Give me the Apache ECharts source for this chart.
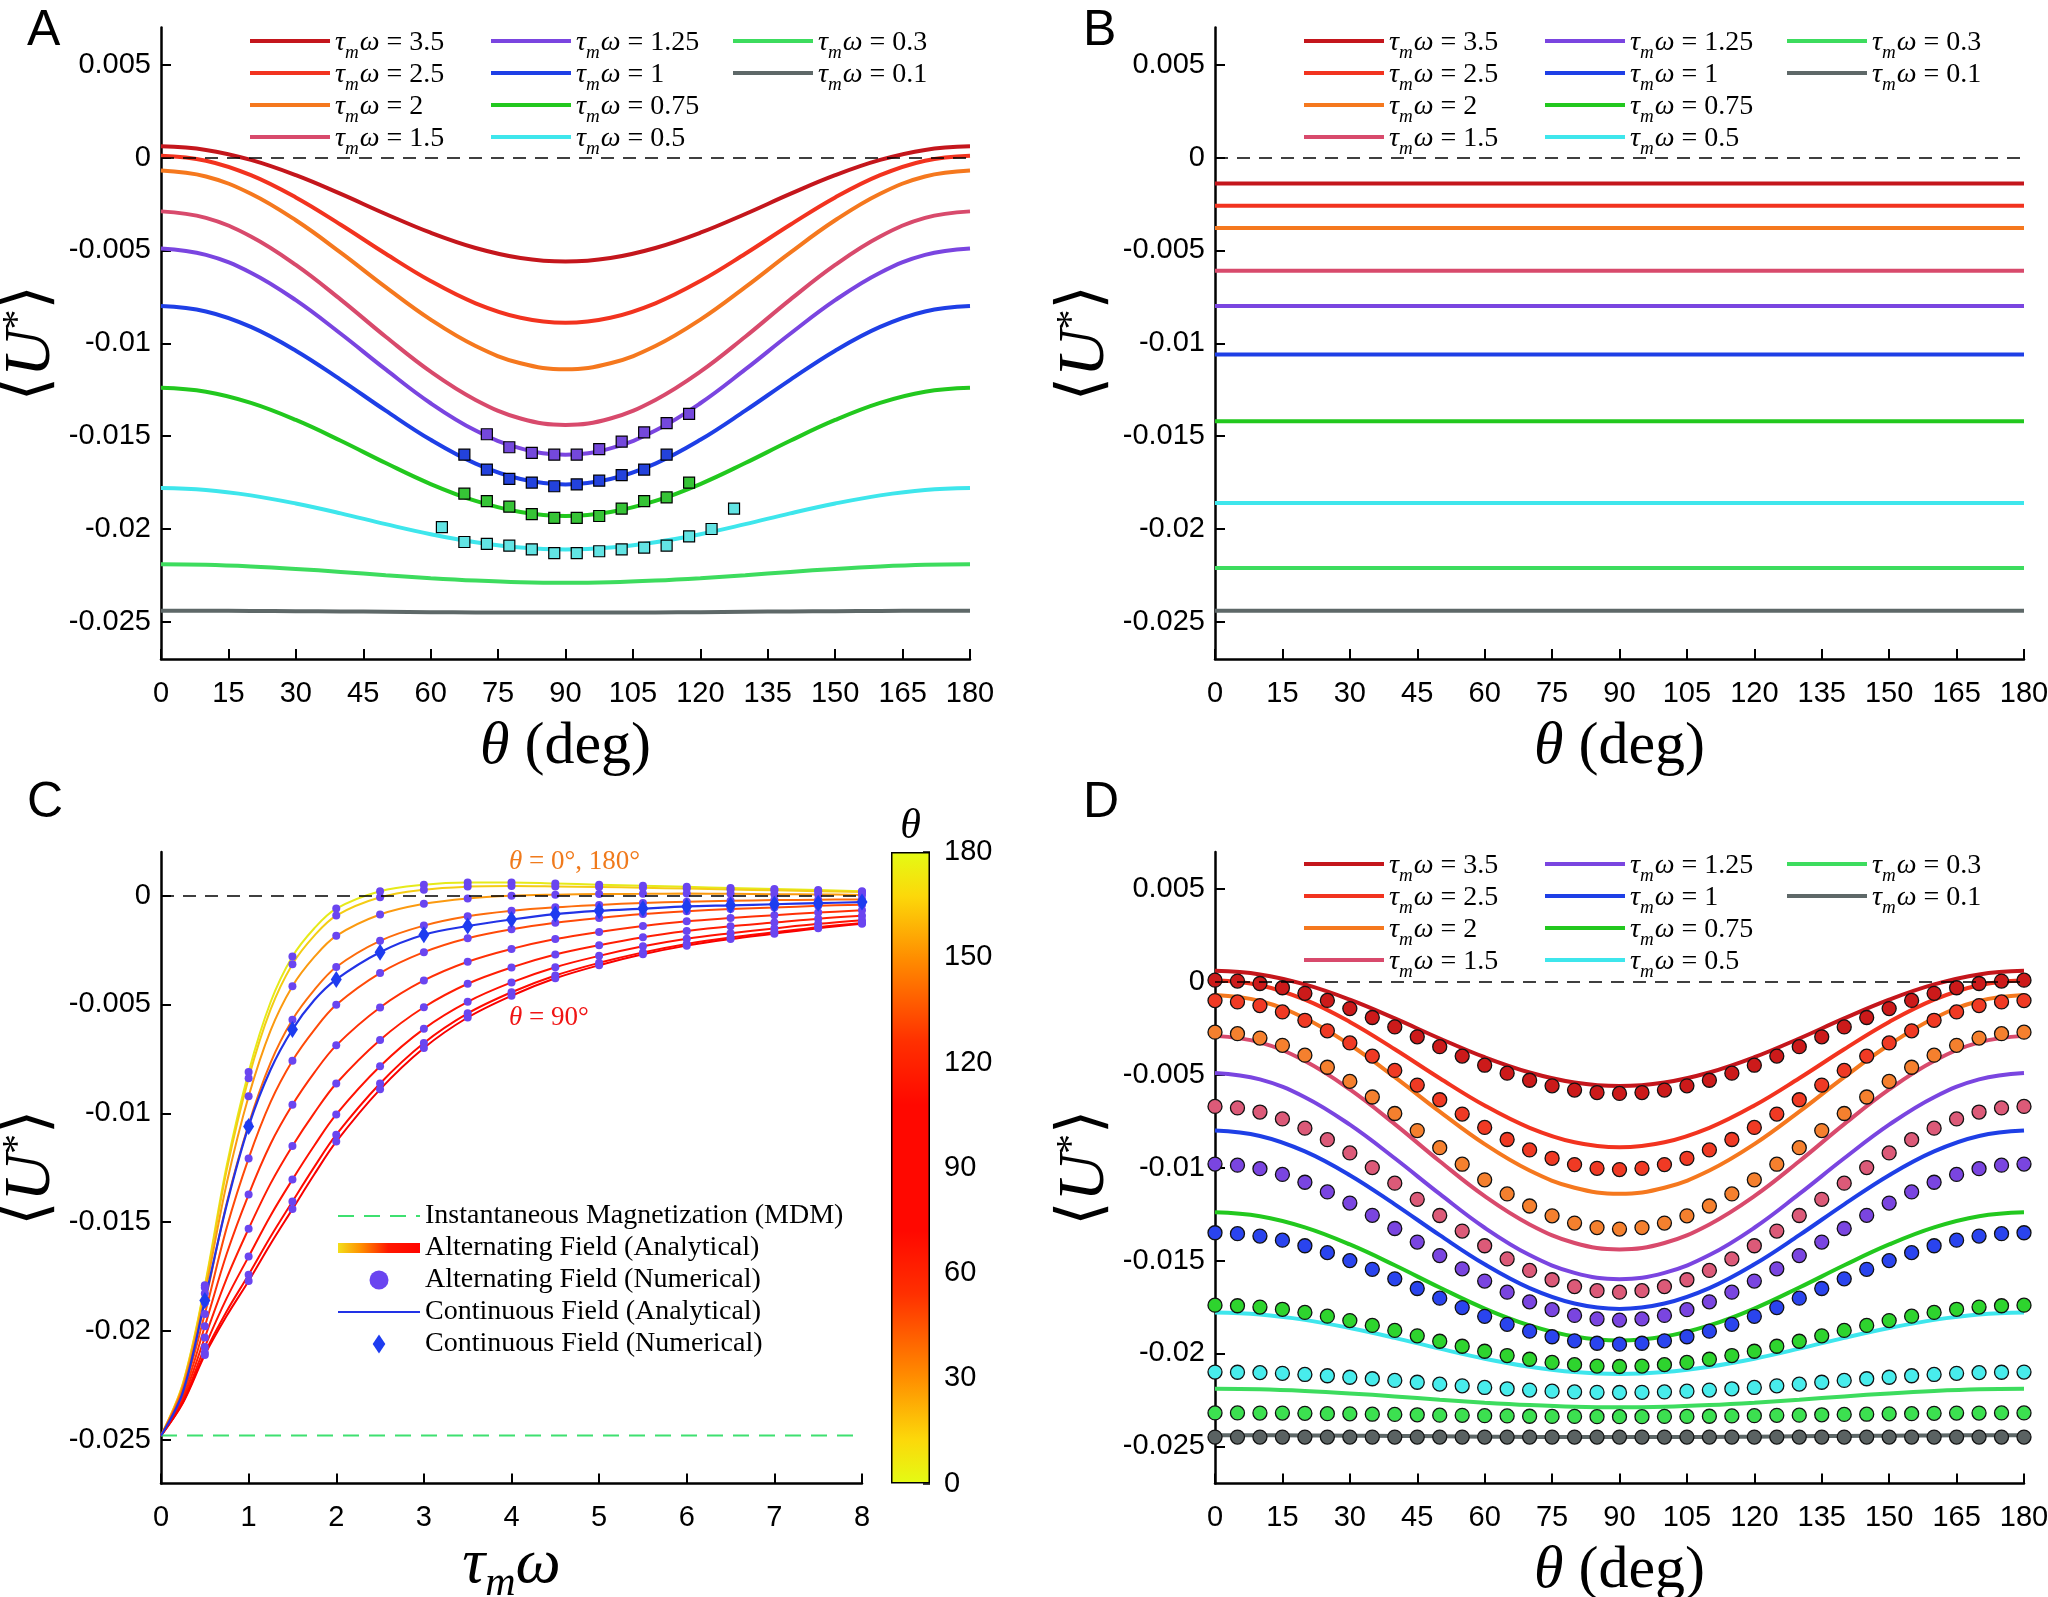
<!DOCTYPE html>
<html>
<head>
<meta charset="utf-8">
<script src="https://cdn.jsdelivr.net/npm/echarts@6/dist/echarts.min.js"></script>
<style>
html, body { margin: 0; padding: 0; background: #fff; }
#chart { width: 2048px; height: 1597px; }
</style>
</head>
<body>
<div id="chart"></div>
<script>
// ---- data ----
var tauLabels = ['3.5', '2.5', '2', '1.5', '1.25', '1', '0.75', '0.5', '0.3', '0.1'];
var lineColors = ['#c4161c', '#f2331f', '#f5781e', '#d84a6c', '#7a45e0', '#1e3fe6', '#22c81e', '#3ee6ec', '#3ddc5e', '#5e6868'];
var dotColors = ['#cc1a1a', '#f03a24', '#f5802e', '#dc5a78', '#7a45e0', '#2a44ee', '#2ed42e', '#48ecec', '#3ce050', '#5a6262'];

// panel A / D analytical curves, theta every 10 deg
var thetaLine = [0, 10, 20, 30, 40, 50, 60, 70, 80, 90, 100, 110, 120, 130, 140, 150, 160, 170, 180];
var uLine35 = [0.0006, 0.00041, -0.00013, -0.00095, -0.00196, -0.00304, -0.00405, -0.00487, -0.00541, -0.0056, -0.00541, -0.00487, -0.00405, -0.00304, -0.00196, -0.00095, -0.00013, 0.00041, 0.0006];
var uLine25 = [0.0001, -0.00017, -0.00095, -0.00215, -0.00362, -0.00518, -0.00665, -0.00785, -0.00863, -0.0089, -0.00863, -0.00785, -0.00665, -0.00518, -0.00362, -0.00215, -0.00095, -0.00017, 0.0001];
var uLine2 = [-0.0007, -0.00102, -0.00195, -0.00338, -0.00512, -0.00698, -0.00873, -0.01015, -0.01108, -0.0114, -0.01108, -0.01015, -0.00873, -0.00698, -0.00512, -0.00338, -0.00195, -0.00102, -0.0007];
var uLine15 = [-0.0029, -0.00325, -0.00425, -0.00578, -0.00765, -0.00965, -0.01153, -0.01305, -0.01405, -0.0144, -0.01405, -0.01305, -0.01153, -0.00965, -0.00765, -0.00578, -0.00425, -0.00325, -0.0029];
var uLine125 = [-0.0049, -0.00524, -0.0062, -0.00768, -0.00949, -0.01141, -0.01323, -0.0147, -0.01566, -0.016, -0.01566, -0.0147, -0.01323, -0.01141, -0.00949, -0.00768, -0.0062, -0.00524, -0.0049];
var uLine1 = [-0.008, -0.00829, -0.00912, -0.0104, -0.01197, -0.01363, -0.0152, -0.01648, -0.01731, -0.0176, -0.01731, -0.01648, -0.0152, -0.01363, -0.01197, -0.0104, -0.00912, -0.00829, -0.008];
var uLine075 = [-0.0124, -0.01261, -0.01321, -0.01413, -0.01525, -0.01645, -0.01758, -0.01849, -0.01909, -0.0193, -0.01909, -0.01849, -0.01758, -0.01645, -0.01525, -0.01413, -0.01321, -0.01261, -0.0124];
var uLine05 = [-0.0178, -0.0179, -0.01819, -0.01863, -0.01916, -0.01974, -0.02028, -0.02071, -0.021, -0.0211, -0.021, -0.02071, -0.02028, -0.01974, -0.01916, -0.01863, -0.01819, -0.0179, -0.0178];
var uLine03 = [-0.0219, -0.02193, -0.02202, -0.02215, -0.02231, -0.02249, -0.02265, -0.02278, -0.02287, -0.0229, -0.02287, -0.02278, -0.02265, -0.02249, -0.02231, -0.02215, -0.02202, -0.02193, -0.0219];
var uLine01 = [-0.0244, -0.0244, -0.02441, -0.02443, -0.02444, -0.02446, -0.02448, -0.02449, -0.0245, -0.0245, -0.0245, -0.02449, -0.02448, -0.02446, -0.02444, -0.02443, -0.02441, -0.0244, -0.0244];
var uLines = [uLine35, uLine25, uLine2, uLine15, uLine125, uLine1, uLine075, uLine05, uLine03, uLine01];

// panel A numerical squares
var sqTheta = [62.5, 67.5, 72.5, 77.5, 82.5, 87.5, 92.5, 97.5, 102.5, 107.5, 112.5, 117.5, 122.5, 127.5];
var sq125 = [null, null, -0.0149, -0.0156, -0.0159, -0.0160, -0.0160, -0.0157, -0.0153, -0.0148, -0.0143, -0.0138, null, null];
var sq1 = [null, -0.0160, -0.0168, -0.0173, -0.0175, -0.0177, -0.0176, -0.0174, -0.0171, -0.0168, -0.0160, null, null, null];
var sq075 = [null, -0.0181, -0.0185, -0.0188, -0.0192, -0.0194, -0.0194, -0.0193, -0.0189, -0.0185, -0.0183, -0.0175, null, null];
var sq05 = [-0.0199, -0.0207, -0.0208, -0.0209, -0.0211, -0.0213, -0.0213, -0.0212, -0.0211, -0.0210, -0.0209, -0.0204, -0.0200, -0.0189];
var sqSeries = [sq125, sq1, sq075, sq05];
var sqColors = ['#7448dc', '#2342dc', '#36c436', '#62e4e4'];

// panel B continuous field (constant in theta)
var bTheta = [0, 180];
var bValues = [-0.0014, -0.0026, -0.0038, -0.0061, -0.0080, -0.0106, -0.0142, -0.0186, -0.0221, -0.0244];

// panel D numerical dots, theta every 5 deg
var thetaDot = [0, 5, 10, 15, 20, 25, 30, 35, 40, 45, 50, 55, 60, 65, 70, 75, 80, 85, 90, 95, 100, 105, 110, 115, 120, 125, 130, 135, 140, 145, 150, 155, 160, 165, 170, 175, 180];
var uDot35 = [0.0001, 0.00005, -0.00008, -0.00031, -0.00061, -0.00099, -0.00143, -0.00191, -0.00242, -0.00295, -0.00348, -0.00399, -0.00448, -0.00491, -0.00529, -0.00559, -0.00582, -0.00595, -0.006, -0.00595, -0.00582, -0.00559, -0.00529, -0.00491, -0.00448, -0.00399, -0.00348, -0.00295, -0.00242, -0.00191, -0.00143, -0.00099, -0.00061, -0.00031, -0.00008, 0.00005, 0.0001];
var uDot25 = [-0.001, -0.00107, -0.00127, -0.00161, -0.00206, -0.00263, -0.00328, -0.00399, -0.00476, -0.00555, -0.00634, -0.00711, -0.00783, -0.00848, -0.00904, -0.00949, -0.00983, -0.01003, -0.0101, -0.01003, -0.00983, -0.00949, -0.00904, -0.00848, -0.00783, -0.00711, -0.00634, -0.00555, -0.00476, -0.00399, -0.00328, -0.00263, -0.00206, -0.00161, -0.00127, -0.00107, -0.001];
var uDot2 = [-0.0027, -0.00278, -0.00302, -0.00341, -0.00394, -0.00459, -0.00535, -0.00619, -0.00708, -0.008, -0.00892, -0.00981, -0.01065, -0.01141, -0.01206, -0.01259, -0.01298, -0.01322, -0.0133, -0.01322, -0.01298, -0.01259, -0.01206, -0.01141, -0.01065, -0.00981, -0.00892, -0.008, -0.00708, -0.00619, -0.00535, -0.00459, -0.00394, -0.00341, -0.00302, -0.00278, -0.0027];
var uDot15 = [-0.0067, -0.00678, -0.007, -0.00737, -0.00787, -0.00849, -0.0092, -0.00999, -0.01083, -0.0117, -0.01257, -0.01341, -0.0142, -0.01491, -0.01553, -0.01603, -0.0164, -0.01662, -0.0167, -0.01662, -0.0164, -0.01603, -0.01553, -0.01491, -0.0142, -0.01341, -0.01257, -0.0117, -0.01083, -0.00999, -0.0092, -0.00849, -0.00787, -0.00737, -0.007, -0.00678, -0.0067];
var uDot125 = [-0.0098, -0.00986, -0.01005, -0.01036, -0.01078, -0.0113, -0.0119, -0.01256, -0.01327, -0.014, -0.01473, -0.01544, -0.0161, -0.0167, -0.01722, -0.01764, -0.01795, -0.01814, -0.0182, -0.01814, -0.01795, -0.01764, -0.01722, -0.0167, -0.0161, -0.01544, -0.01473, -0.014, -0.01327, -0.01256, -0.0119, -0.0113, -0.01078, -0.01036, -0.01005, -0.00986, -0.0098];
var uDot1 = [-0.0135, -0.01355, -0.01368, -0.0139, -0.0142, -0.01457, -0.015, -0.01547, -0.01598, -0.0165, -0.01702, -0.01753, -0.018, -0.01843, -0.0188, -0.0191, -0.01932, -0.01945, -0.0195, -0.01945, -0.01932, -0.0191, -0.0188, -0.01843, -0.018, -0.01753, -0.01702, -0.0165, -0.01598, -0.01547, -0.015, -0.01457, -0.0142, -0.0139, -0.01368, -0.01355, -0.0135];
var uDot075 = [-0.0174, -0.01743, -0.0175, -0.01762, -0.01779, -0.01799, -0.01823, -0.01849, -0.01876, -0.01905, -0.01934, -0.01961, -0.01988, -0.02011, -0.02031, -0.02048, -0.0206, -0.02068, -0.0207, -0.02068, -0.0206, -0.02048, -0.02031, -0.02011, -0.01988, -0.01961, -0.01934, -0.01905, -0.01876, -0.01849, -0.01823, -0.01799, -0.01779, -0.01762, -0.0175, -0.01743, -0.0174];
var uDot05 = [-0.021, -0.02101, -0.02103, -0.02107, -0.02113, -0.0212, -0.02128, -0.02136, -0.02145, -0.02155, -0.02165, -0.02174, -0.02183, -0.0219, -0.02197, -0.02203, -0.02207, -0.02209, -0.0221, -0.02209, -0.02207, -0.02203, -0.02197, -0.0219, -0.02183, -0.02174, -0.02165, -0.02155, -0.02145, -0.02136, -0.02128, -0.0212, -0.02113, -0.02107, -0.02103, -0.02101, -0.021];
var uDot03 = [-0.0232, -0.0232, -0.02321, -0.02321, -0.02322, -0.02324, -0.02325, -0.02327, -0.02328, -0.0233, -0.02332, -0.02333, -0.02335, -0.02336, -0.02338, -0.02339, -0.02339, -0.0234, -0.0234, -0.0234, -0.02339, -0.02339, -0.02338, -0.02336, -0.02335, -0.02333, -0.02332, -0.0233, -0.02328, -0.02327, -0.02325, -0.02324, -0.02322, -0.02321, -0.02321, -0.0232, -0.0232];
var uDot01 = [-0.0245, -0.0245, -0.0245, -0.0245, -0.0245, -0.0245, -0.0245, -0.0245, -0.0245, -0.0245, -0.0245, -0.0245, -0.0245, -0.0245, -0.0245, -0.0245, -0.0245, -0.0245, -0.0245, -0.0245, -0.0245, -0.0245, -0.0245, -0.0245, -0.0245, -0.0245, -0.0245, -0.0245, -0.0245, -0.0245, -0.0245, -0.0245, -0.0245, -0.0245, -0.0245, -0.0245, -0.0245];
var uDots = [uDot35, uDot25, uDot2, uDot15, uDot125, uDot1, uDot075, uDot05, uDot03, uDot01];

// panel C: <U*> against tau_m*omega for theta = 0..90 (theta and 180-theta coincide)
var tauW = [0, 0.25, 0.5, 0.75, 1, 1.25, 1.5, 1.75, 2, 2.5, 3, 3.5, 4, 4.5, 5, 5.5, 6, 6.5, 7, 7.5, 8];
var cTheta = [0, 10, 20, 30, 40, 50, 60, 70, 80, 90];
var cTheta0 = [-0.0248, -0.0224, -0.0179, -0.0124, -0.0081, -0.0049, -0.0028, -0.0015, -0.0006, 0.0002, 0.0005, 0.0006, 0.0006, 0.00055, 0.0005, 0.00045, 0.0004, 0.00035, 0.0003, 0.00025, 0.0002];
var cTheta10 = [-0.0248, -0.02243, -0.018, -0.01261, -0.00839, -0.00524, -0.00315, -0.00184, -0.00092, -0.00008, 0.00027, 0.00041, 0.00044, 0.00042, 0.00039, 0.00036, 0.00032, 0.00028, 0.00024, 0.0002, 0.00016];
var cTheta20 = [-0.0248, -0.02251, -0.01827, -0.01321, -0.00922, -0.0062, -0.00416, -0.00282, -0.00185, -0.00087, -0.00038, -0.00013, -0.00001, 0.00004, 0.00007, 0.00008, 0.00009, 0.00008, 0.00006, 0.00005, 0.00003];
var cTheta30 = [-0.0248, -0.02263, -0.0187, -0.01413, -0.0105, -0.00768, -0.0057, -0.00433, -0.00328, -0.00208, -0.00138, -0.00095, -0.0007, -0.00054, -0.00043, -0.00034, -0.00028, -0.00024, -0.00021, -0.00019, -0.00018];
var cTheta40 = [-0.0248, -0.02277, -0.01922, -0.01525, -0.01207, -0.00949, -0.00759, -0.00617, -0.00502, -0.00356, -0.0026, -0.00196, -0.00155, -0.00125, -0.00103, -0.00085, -0.00072, -0.00062, -0.00055, -0.00047, -0.00042];
var cTheta50 = [-0.0248, -0.02293, -0.01978, -0.01645, -0.01373, -0.01141, -0.00961, -0.00813, -0.00688, -0.00514, -0.0039, -0.00304, -0.00245, -0.002, -0.00167, -0.0014, -0.00118, -0.00103, -0.0009, -0.00078, -0.00068];
var cTheta60 = [-0.0248, -0.02308, -0.0203, -0.01758, -0.0153, -0.01323, -0.0115, -0.00998, -0.00863, -0.00663, -0.00513, -0.00405, -0.0033, -0.00271, -0.00228, -0.00191, -0.00163, -0.00141, -0.00124, -0.00106, -0.00093];
var cTheta70 = [-0.0248, -0.0232, -0.02073, -0.01849, -0.01658, -0.0147, -0.01304, -0.01148, -0.01005, -0.00784, -0.00612, -0.00488, -0.00399, -0.00329, -0.00277, -0.00233, -0.00198, -0.00173, -0.00151, -0.0013, -0.00113];
var cTheta80 = [-0.0248, -0.02327, -0.021, -0.01909, -0.01741, -0.01567, -0.01405, -0.01246, -0.01098, -0.00863, -0.00677, -0.00541, -0.00444, -0.00367, -0.00309, -0.00261, -0.00222, -0.00193, -0.00169, -0.00145, -0.00126];
var cTheta90 = [-0.0248, -0.0233, -0.0211, -0.0193, -0.0177, -0.016, -0.0144, -0.0128, -0.0113, -0.0089, -0.007, -0.0056, -0.0046, -0.0038, -0.0032, -0.0027, -0.0023, -0.002, -0.00175, -0.0015, -0.0013];
var cCurves = [cTheta0, cTheta10, cTheta20, cTheta30, cTheta40, cTheta50, cTheta60, cTheta70, cTheta80, cTheta90];
var cColors = ['#e6ea1a', '#f4cc14', '#fb9a10', '#fd6c0c', '#ff4a08', '#ff3006', '#ff1e04', '#ff1202', '#ff0a00', '#f80000'];
var cContinuous = [-0.0248, -0.0228, -0.0186, -0.0142, -0.0106, -0.008, -0.00615, -0.0048, -0.00385, -0.0026, -0.0018, -0.0014, -0.0011, -0.00085, -0.0007, -0.0006, -0.0005, -0.00045, -0.0004, -0.00035, -0.0003];
var mdmValue = -0.0248;

// colour bar
var cbarTicks = [0, 30, 60, 90, 120, 150, 180];
var cbarStops = [[0, '#e4fb14'], [0.07, '#fcd80a'], [0.17, '#ff8c00'], [0.3, '#ff3000'], [0.4, '#ff0800'], [0.6, '#ff0800'], [0.7, '#ff3000'], [0.83, '#ff8c00'], [0.93, '#fcd80a'], [1, '#e4fb14']];

// axis tick values
var uTicksABD = [-0.025, -0.02, -0.015, -0.01, -0.005, 0, 0.005];
var uTicksC = [-0.025, -0.02, -0.015, -0.01, -0.005, 0];

// ---- styling helpers ----
var SANS = 'Liberation Sans, Arial, Helvetica, sans-serif';
var SERIF = 'Liberation Serif, Times New Roman, DejaVu Serif, serif';

var mathRich = {
  i: { fontFamily: SERIF, fontStyle: 'italic', fontSize: 28, lineHeight: 24, verticalAlign: 'top', color: '#000' },
  s: { fontFamily: SERIF, fontStyle: 'italic', fontSize: 19, lineHeight: 14, padding: [14, 1, 0, 0], verticalAlign: 'top', color: '#000' },
  t: { fontFamily: SERIF, fontSize: 28, lineHeight: 24, verticalAlign: 'top', color: '#000' }
};

function tauName(v) { return 'τmω = ' + v; }

function xTheta(grid) {
  return {
    type: 'value', gridIndex: grid, min: 0, max: 180, interval: 15,
    axisLine: { onZero: false, lineStyle: { color: '#000', width: 2.5 } },
    axisTick: { inside: true, length: 10, lineStyle: { color: '#000', width: 2 } },
    axisLabel: { color: '#000', fontFamily: SANS, fontSize: 29, margin: 20 },
    splitLine: { show: false },
    name: '{i|θ}{t| (deg)}', nameLocation: 'middle', nameGap: 58,
    nameTextStyle: { rich: {
      i: { fontFamily: SERIF, fontStyle: 'italic', fontSize: 60, color: '#000' },
      t: { fontFamily: SERIF, fontSize: 60, color: '#000' } } }
  };
}

function yU(grid, min, max, ticks) {
  return {
    type: 'value', gridIndex: grid, min: min, max: max,
    axisLine: { show: true, onZero: false, lineStyle: { color: '#000', width: 2.5 } },
    axisTick: { show: true, inside: true, length: 10, customValues: ticks, lineStyle: { color: '#000', width: 2 } },
    axisLabel: { color: '#000', fontFamily: SANS, fontSize: 29, margin: 10, customValues: ticks,
      formatter: function (v) { return String(parseFloat(v.toFixed(4))); } },
    splitLine: { show: false },
    name: '{a|⟨}{u|U}{s|*}{a|⟩}', nameLocation: 'middle', nameRotate: 90, nameGap: 95,
    nameTextStyle: { rich: {
      a: { fontFamily: 'DejaVu Serif, serif', fontSize: 62, lineHeight: 66, verticalAlign: 'top', color: '#000' },
      u: { fontFamily: SERIF, fontStyle: 'italic', fontSize: 66, lineHeight: 66, verticalAlign: 'top', color: '#000' },
      s: { fontFamily: SERIF, fontSize: 40, lineHeight: 36, verticalAlign: 'top', color: '#000' } } }
  };
}

function tauLegend(names, left, top) {
  return {
    orient: 'vertical', left: left, top: top, itemWidth: 80, itemHeight: 14, itemGap: -1,
    selectedMode: false, data: names, itemStyle: { opacity: 0 }, lineStyle: { width: 4 },
    formatter: function (n) { return '{i|τ}{s|m}{i|ω}{t| = ' + n.split('= ')[1] + '}'; },
    textStyle: { fontFamily: SERIF, fontSize: 28, color: '#000', padding: [0, 0, 0, 0], rich: mathRich }
  };
}

function zeroLine() {
  return { silent: true, symbol: ['none', 'none'], label: { show: false },
    lineStyle: { color: '#000', type: [13, 9], width: 1.6 }, data: [{ yAxis: 0 }] };
}

// ---- series ----
var series = [];
var names = tauLabels.map(tauName);

// A
tauLabels.forEach(function (lab, k) {
  series.push({
    type: 'line', name: names[k], xAxisIndex: 0, yAxisIndex: 0, symbol: 'none', smooth: 0.4,
    lineStyle: { color: lineColors[k], width: 4 }, itemStyle: { color: lineColors[k] },
    data: thetaLine.map(function (t, i) { return [t, uLines[k][i]]; }),
    markLine: k === 0 ? zeroLine() : undefined, z: 3
  });
});
sqSeries.forEach(function (arr, k) {
  series.push({
    type: 'scatter', name: 'A numerical ' + k, xAxisIndex: 0, yAxisIndex: 0, symbol: 'rect', symbolSize: 11,
    itemStyle: { color: sqColors[k], borderColor: '#000', borderWidth: 1.2, opacity: 1 },
    data: sqTheta.map(function (t, i) { return [t, arr[i]]; }).filter(function (p) { return p[1] !== null; }), z: 5
  });
});

// B
bValues.forEach(function (v, k) {
  series.push({
    type: 'line', name: names[k], xAxisIndex: 1, yAxisIndex: 1, symbol: 'none',
    lineStyle: { color: lineColors[k], width: 4 }, itemStyle: { color: lineColors[k] },
    data: bTheta.map(function (t) { return [t, v]; }),
    markLine: k === 0 ? zeroLine() : undefined
  });
});

// C
var cbarGradient = new echarts.graphic.LinearGradient(0, 1, 0, 0, cbarStops.map(function (s) { return { offset: s[0], color: s[1] }; }));
var legendGradient = new echarts.graphic.LinearGradient(0, 0, 1, 0, [
  { offset: 0, color: '#f0f020' }, { offset: 0.3, color: '#ff9000' }, { offset: 0.6, color: '#ff1800' }, { offset: 1, color: '#ff0000' }]);
series.push({
  type: 'line', name: 'Instantaneous Magnetization (MDM)', xAxisIndex: 2, yAxisIndex: 2, symbol: 'none',
  lineStyle: { color: '#3ee070', width: 2, type: [16, 10] }, itemStyle: { color: '#3ee070' },
  data: [[tauW[0], mdmValue], [tauW[tauW.length - 1], mdmValue]], markLine: zeroLine()
});
series.push({
  type: 'line', name: 'Alternating Field (Analytical)', xAxisIndex: 2, yAxisIndex: 2, symbol: 'none', data: [],
  lineStyle: { width: 10, color: legendGradient }, itemStyle: { color: '#ff2000' }
});
cCurves.forEach(function (arr, k) {
  series.push({
    type: 'line', name: 'θ = ' + cTheta[k] + '°', xAxisIndex: 2, yAxisIndex: 2, symbol: 'none', smooth: 0.35,
    lineStyle: { color: cColors[k], width: 2 }, itemStyle: { color: cColors[k] },
    data: tauW.map(function (x, i) { return [x, arr[i]]; }), z: 2
  });
});
series.push({
  type: 'line', name: 'Continuous Field (Analytical)', xAxisIndex: 2, yAxisIndex: 2, symbol: 'none', smooth: 0.35,
  lineStyle: { color: '#2233e6', width: 2.2 }, itemStyle: { color: '#2233e6' },
  data: tauW.map(function (x, i) { return [x, cContinuous[i]]; }), z: 3
});
var altDots = [];
cCurves.forEach(function (arr) {
  tauW.forEach(function (x, i) { if (x >= 0.5 && (x * 2) % 1 === 0) altDots.push([x, arr[i]]); });
});
series.push({
  type: 'scatter', name: 'Alternating Field (Numerical)', xAxisIndex: 2, yAxisIndex: 2, symbol: 'circle', symbolSize: 8,
  itemStyle: { color: '#6a45f0', opacity: 1 }, data: altDots, z: 4
});
series.push({
  type: 'scatter', name: 'Continuous Field (Numerical)', xAxisIndex: 2, yAxisIndex: 2, symbol: 'diamond', symbolSize: [11, 17],
  itemStyle: { color: '#1e3cf0', opacity: 1 },
  data: tauW.map(function (x, i) { return [x, cContinuous[i]]; }).filter(function (p) { return p[0] >= 0.5 && (p[0] * 2) % 1 === 0; }), z: 5
});

// colour bar
series.push({
  type: 'bar', name: 'θ colour bar', xAxisIndex: 3, yAxisIndex: 3, barWidth: '100%', silent: true,
  itemStyle: { color: cbarGradient, borderColor: '#000', borderWidth: 1.5 },
  data: [cbarTicks[cbarTicks.length - 1]]
});

// D
tauLabels.forEach(function (lab, k) {
  series.push({
    type: 'line', name: names[k], xAxisIndex: 4, yAxisIndex: 4, symbol: 'none', smooth: 0.4,
    lineStyle: { color: lineColors[k], width: 4 }, itemStyle: { color: lineColors[k] },
    data: thetaLine.map(function (t, i) { return [t, uLines[k][i]]; }),
    markLine: k === 0 ? zeroLine() : undefined, z: 2
  });
});
tauLabels.forEach(function (lab, k) {
  series.push({
    type: 'scatter', name: 'D numerical ' + lab, xAxisIndex: 4, yAxisIndex: 4, symbol: 'circle', symbolSize: 14,
    itemStyle: { color: dotColors[k], borderColor: '#111', borderWidth: 1.3, opacity: 1 },
    data: thetaDot.map(function (t, i) { return [t, uDots[k][i]]; }), z: 4
  });
});

// ---- option ----
var grids = [
  { left: 161, top: 27.5, width: 809, height: 631.5, outerBoundsMode: 'none' },
  { left: 1215, top: 27.5, width: 809, height: 631.5, outerBoundsMode: 'none' },
  { left: 161, top: 852, width: 701, height: 631.5, outerBoundsMode: 'none' },
  { left: 891, top: 852, width: 39, height: 631.5, outerBoundsMode: 'none' },
  { left: 1215, top: 852, width: 809, height: 631.5, outerBoundsMode: 'none' }
];

var xC = {
  type: 'value', gridIndex: 2, min: 0, max: 8, interval: 1,
  axisLine: { onZero: false, lineStyle: { color: '#000', width: 2.5 } },
  axisTick: { inside: true, length: 10, lineStyle: { color: '#000', width: 2 } },
  axisLabel: { color: '#000', fontFamily: SANS, fontSize: 29, margin: 20 },
  splitLine: { show: false },
  name: '{i|τ}{s|m}{i|ω}', nameLocation: 'middle', nameGap: 46,
  nameTextStyle: { rich: {
    i: { fontFamily: SERIF, fontStyle: 'italic', fontSize: 64, lineHeight: 60, verticalAlign: 'top', color: '#000' },
    s: { fontFamily: SERIF, fontStyle: 'italic', fontSize: 42, lineHeight: 42, padding: [30, 0, 0, 0], verticalAlign: 'top', color: '#000' } } }
};

var xBar = {
  type: 'category', gridIndex: 3, data: ['θ'], position: 'top',
  axisLine: { show: false }, axisTick: { show: false }, axisLabel: { show: false },
  name: 'θ', nameLocation: 'middle', nameGap: 4,
  nameTextStyle: { fontFamily: SERIF, fontStyle: 'italic', fontSize: 42, color: '#000', verticalAlign: 'bottom' }
};
var yBar = {
  type: 'value', gridIndex: 3, position: 'right', min: 0, max: 180, interval: 30,
  axisLine: { show: false }, splitLine: { show: false },
  axisTick: { show: true, inside: true, length: 7, lineStyle: { color: '#000', width: 1.5 } },
  axisLabel: { color: '#000', fontFamily: SANS, fontSize: 29, margin: 14 }
};

var option = {
  animation: false,
  backgroundColor: '#fff',
  grid: grids,
  xAxis: [xTheta(0), xTheta(1), xC, xBar, xTheta(4)],
  yAxis: [yU(0, -0.027, 0.007, uTicksABD), yU(1, -0.027, 0.007, uTicksABD), yU(2, -0.027, 0.002, uTicksC), yBar, yU(4, -0.027, 0.007, uTicksABD)],
  legend: [
    tauLegend(names.slice(0, 4), 243, 24),
    tauLegend(names.slice(4, 8), 484, 24),
    tauLegend(names.slice(8, 10), 726, 24),
    tauLegend(names.slice(0, 4), 1297, 847),
    tauLegend(names.slice(4, 8), 1538, 847),
    tauLegend(names.slice(8, 10), 1780, 847),
    tauLegend(names.slice(0, 4), 1297, 24),
    tauLegend(names.slice(4, 8), 1538, 24),
    tauLegend(names.slice(8, 10), 1780, 24),
    {
      orient: 'vertical', left: 328, top: 1197, itemWidth: 82, itemHeight: 19, itemGap: 4, selectedMode: false,
      symbolKeepAspect: true,
      data: [
        { name: 'Instantaneous Magnetization (MDM)', itemStyle: { opacity: 0 } },
        { name: 'Alternating Field (Analytical)', itemStyle: { opacity: 0 }, lineStyle: { width: 10, color: legendGradient } },
        { name: 'Alternating Field (Numerical)', icon: 'circle' },
        { name: 'Continuous Field (Analytical)', itemStyle: { opacity: 0 } },
        { name: 'Continuous Field (Numerical)', icon: 'path://M6,0L12,9L6,18L0,9Z' }
      ],
      textStyle: { fontFamily: SERIF, fontSize: 28, color: '#000', lineHeight: 28 }
    }
  ],
  graphic: [
    { type: 'text', left: 27, top: 6, style: { text: 'A', font: '50px Liberation Sans', fill: '#000' } },
    { type: 'text', left: 1083, top: 6, style: { text: 'B', font: '50px Liberation Sans', fill: '#000' } },
    { type: 'text', left: 27, top: 778, style: { text: 'C', font: '50px Liberation Sans', fill: '#000' } },
    { type: 'text', left: 1083, top: 778, style: { text: 'D', font: '50px Liberation Sans', fill: '#000' } },
    { type: 'text', left: 509, top: 848, style: {
      text: '{i|θ}{t| = 0°, 180°}', rich: {
        i: { fontFamily: SERIF, fontStyle: 'italic', fontSize: 27, fill: '#f07a1c' },
        t: { fontFamily: SERIF, fontSize: 27, fill: '#f07a1c' } } } },
    { type: 'text', left: 509, top: 1004, style: {
      text: '{i|θ}{t| = 90°}', rich: {
        i: { fontFamily: SERIF, fontStyle: 'italic', fontSize: 27, fill: '#f01414' },
        t: { fontFamily: SERIF, fontSize: 27, fill: '#f01414' } } } }
  ],
  series: series
};

var chart = echarts.init(document.getElementById('chart'));
chart.setOption(option);
</script>
</body>
</html>
